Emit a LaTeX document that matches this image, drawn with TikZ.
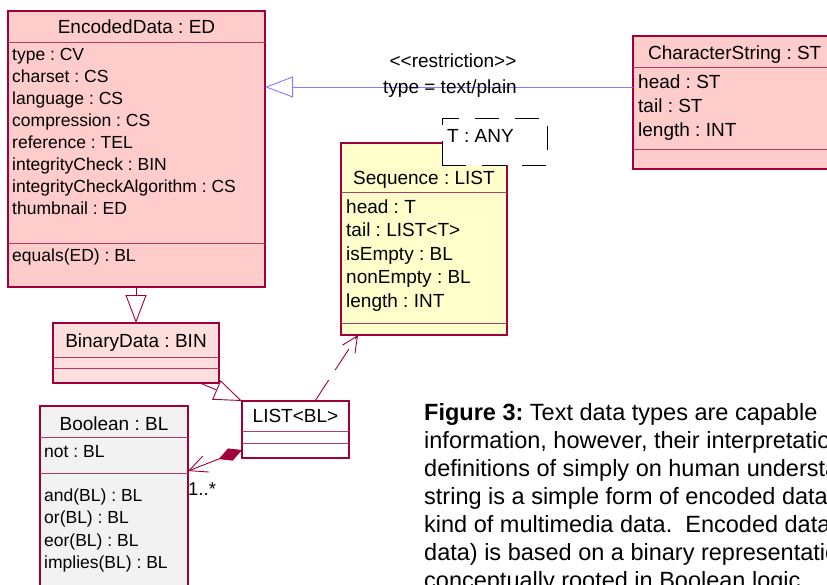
\documentclass[tikz,border=0pt]{standalone}
\usepackage{fontspec}
\setmainfont{Liberation Sans}
\usetikzlibrary{arrows.meta,calc}
\definecolor{bordc}{RGB}{160,0,55}
\definecolor{edfill}{RGB}{255,204,204}
\definecolor{binfill}{RGB}{255,222,222}
\definecolor{seqfill}{RGB}{255,255,204}
\definecolor{boolfill}{RGB}{242,242,242}
\definecolor{restrc}{RGB}{128,128,255}
\definecolor{divc}{RGB}{180,60,100}
\frenchspacing
\begin{document}
\begin{tikzpicture}[x=1pt,y=-1pt,
  umlbox/.style={draw=bordc, line width=1.3pt, inner sep=0pt, outer sep=0pt, anchor=north west},
  ttl/.style={anchor=base, inner sep=0pt, font=\fontsize{19}{22}\selectfont},
  ttlw/.style={anchor=base west, inner sep=0pt, font=\fontsize{19}{22}\selectfont},
  attr/.style={anchor=base west, inner sep=0pt, font=\fontsize{19}{22}\selectfont},
  sattr/.style={anchor=base west, inner sep=0pt, font=\fontsize{17.5}{21}\selectfont},
  captext/.style={anchor=base west, inner sep=0pt, font=\fontsize{23.5}{28}\selectfont},
  divl/.style={draw=divc, line width=0.9pt},
  gen/.style={draw=bordc, line width=0.9pt, -{Triangle[open,length=28pt,width=21pt]}},
  restr/.style={draw=restrc, line width=0.9pt, -{Triangle[open,length=28pt,width=21pt]}},
  comp/.style={draw=bordc, line width=0.9pt, {Diamond[length=25pt,width=13pt,fill=bordc]}-{Straight Barb[length=18pt,width=17pt]}},
  depend/.style={draw=bordc, line width=0.9pt, dash pattern=on 25pt off 12pt, -{Straight Barb[length=16pt,width=15pt]}}
]
\useasboundingbox (0,0) rectangle (827,584);
\clip (0,0) rectangle (827,584);

% ---------- EncodedData
\node[umlbox, fill=edfill, minimum width=257pt, minimum height=276pt] (ed) at (8,11) {};
\draw[divl] (ed.west |- 0,42) -- (ed.east |- 0,42);
\draw[divl] (ed.west |- 0,243) -- (ed.east |- 0,243);
\node[ttl] (edt) at (136.5,33) {EncodedData : ED};
\node[sattr] (ed1) at (12,60) {type : CV};
\node[sattr] (ed2) at (12,82) {charset : CS};
\node[sattr] (ed3) at (12,104) {language : CS};
\node[sattr] (ed4) at (12,126) {compression : CS};
\node[sattr] (ed5) at (12,148) {reference : TEL};
\node[sattr] (ed6) at (12,170) {integrityCheck : BIN};
\node[sattr] (ed7) at (12,192) {integrityCheckAlgorithm : CS};
\node[sattr] (ed8) at (12,214) {thumbnail : ED};
\node[sattr] (ed9) at (12,261) {equals(ED) : BL};

% ---------- CharacterString
\node[umlbox, fill=edfill, minimum width=210pt, minimum height=133pt] (cs) at (633,36) {};
\draw[divl] (cs.west |- 0,67) -- (cs.east |- 0,67);
\draw[divl] (cs.west |- 0,149) -- (cs.east |- 0,149);
\node[ttlw] (cst) at (648,59) {CharacterString : ST};
\node[attr] (cs1) at (638,88) {head : ST};
\node[attr] (cs2) at (638,112) {tail : ST};
\node[attr] (cs3) at (638,136) {length : INT};

% ---------- Sequence
\node[umlbox, fill=seqfill, minimum width=166pt, minimum height=192pt] (seq) at (341,143) {};
\draw[divl] (seq.west |- 0,192) -- (seq.east |- 0,192);
\draw[divl] (seq.west |- 0,323) -- (seq.east |- 0,323);
\node[ttl] (seqt) at (424,184) {Sequence : LIST};
\node[attr] (sq1) at (346,213) {head : T};
\node[attr] (sq2) at (346,236.5) {tail : LIST<T>};
\node[attr] (sq3) at (346,260) {isEmpty : BL};
\node[attr] (sq4) at (346,283.5) {nonEmpty : BL};
\node[attr] (sq5) at (346,307) {length : INT};

% ---------- template parameter
\node[draw=black, line width=0.9pt, dash pattern=on 24pt off 16pt, fill=white, inner sep=0pt, outer sep=0pt, anchor=north west, minimum width=105pt, minimum height=47pt] (tany) at (442,118) {};
\node[attr] (tanyt) at (447,142) {T : ANY};

% ---------- BinaryData
\node[umlbox, fill=binfill, minimum width=166pt, minimum height=60pt] (bin) at (53,323) {};
\draw[divl] (bin.west |- 0,357) -- (bin.east |- 0,357);
\draw[divl] (bin.west |- 0,368) -- (bin.east |- 0,368);
\node[ttl] (bint) at (136,347) {BinaryData : BIN};

% ---------- LIST<BL>
\node[umlbox, fill=white, minimum width=107pt, minimum height=57pt] (list) at (242,401) {};
\draw[divl] (list.west |- 0,431) -- (list.east |- 0,431);
\draw[divl] (list.west |- 0,443) -- (list.east |- 0,443);
\node[ttl] (listt) at (295.5,422) {LIST<BL>};

% ---------- Boolean
\node[umlbox, fill=boolfill, minimum width=148pt, minimum height=200pt] (bool) at (40,406) {};
\draw[divl] (bool.west |- 0,437) -- (bool.east |- 0,437);
\draw[divl] (bool.west |- 0,473) -- (bool.east |- 0,473);
\node[ttl] (boolt) at (114,430) {Boolean : BL};
\node[sattr] (bl1) at (44,457) {not : BL};
\node[sattr] (bl2) at (44,501) {and(BL) : BL};
\node[sattr] (bl3) at (44,523) {or(BL) : BL};
\node[sattr] (bl4) at (44,546) {eor(BL) : BL};
\node[sattr] (bl5) at (44,568) {implies(BL) : BL};

% ---------- connectors
\draw[restr] ([yshift=-51pt]cs.north west) -- ([yshift=-51pt]cs.north west -| ed.east);
\node[ttl] (rst1) at (453,67) {<\kern0pt<restriction>\kern0pt>};
\node[ttl] (rst2) at (450,93) {type = text/plain};

\draw[gen] (ed.south -| bint) -- (bin.north -| bint);
\draw[gen] ([xshift=-19pt]bin.south east) -- (list.north west);
\draw[comp] ([yshift=-49pt]list.north west) -- ([yshift=-65pt]bool.north east);
\node[anchor=base west, inner sep=0pt, font=\fontsize{18.5}{22}\selectfont] (mult) at (188,495) {1..*};
\draw[depend] ([xshift=-34pt]list.north east) -- ([xshift=17pt]seq.south west);

% ---------- caption
\node[captext] (c1) at (424,420) {\textbf{Figure 3:} Text data types are capable};
\node[captext] (c2) at (424,448) {information, however, their interpretation};
\node[captext] (c3) at (424,476) {definitions of simply on human understanding};
\node[captext] (c4) at (424,504) {string is a simple form of encoded data};
\node[captext] (c5) at (424,532) {kind of multimedia data.\ \ Encoded data};
\node[captext] (c6) at (424,560) {data) is based on a binary representation};
\node[captext] (c7) at (424,588) {conceptually rooted in Boolean logic.};
\end{tikzpicture}
\end{document}
